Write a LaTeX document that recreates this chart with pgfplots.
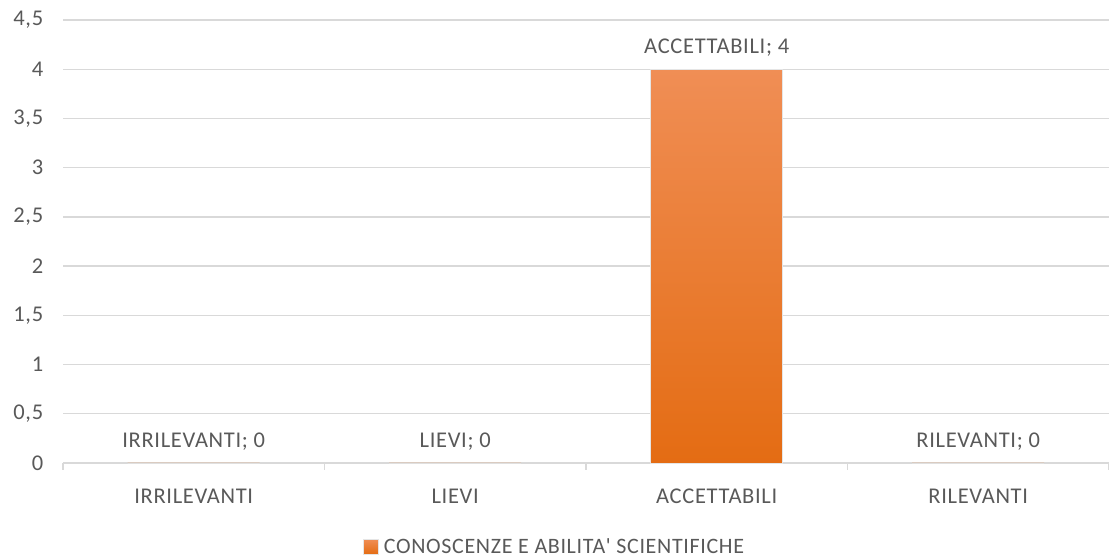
\documentclass[border=0pt]{standalone}
\usepackage{pgfplots}
\usepackage{pgfplotstable}
\pgfplotsset{compat=1.18}
\usepackage{fontspec}
\setmainfont{Carlito}[LetterSpace=3]
\newfontfamily\cfont{Carlito}[LetterSpace=3]
\definecolor{txt}{HTML}{595959}
\definecolor{gridc}{HTML}{D9D9D9}
\definecolor{otop}{HTML}{F08E55}
\definecolor{obot}{HTML}{E46C13}
\pgfplotstableread{
x y lab
0 0 IRRILEVANTI
1 0 LIEVI
2 4 ACCETTABILI
3 0 RILEVANTI
}\datatab
\begin{document}
\begin{tikzpicture}[x=1pt,y=1pt]
\path[use as bounding box] (0,0) rectangle (1109,559);
\begin{axis}[
  at={(63pt,96pt)}, anchor=south west,
  scale only axis, width=1046pt, height=443pt,
  xmin=-0.5, xmax=3.5, ymin=0, ymax=4.5,
  font=\fontsize{22.5}{26}\selectfont,
  ytick={0,0.5,1,1.5,2,2.5,3,3.5,4,4.5},
  /pgf/number format/assume math mode=true,
  /pgf/number format/use comma,
  yticklabel style={text=txt, xshift=-12pt},
  ymajorgrids, major grid style={draw=gridc, line width=1.3pt},
  axis x line=bottom, axis y line=left,
  y axis line style={draw=none},
  x axis line style={-, draw=gridc, line width=1.6pt},
  ytick style={draw=none},
  xtick={0,1,2,3},
  xticklabels={IRRILEVANTI,LIEVI,ACCETTABILI,RILEVANTI},
  xticklabel style={text=txt, yshift=-18pt},
  major x tick style={draw=none},
  minor xtick={-0.5,0.5,1.5,2.5,3.5},
  minor x tick style={draw=gridc, line width=1.6pt},
  minor tick length=7pt,
  tick align=outside,
  legend style={at={(0.47,-0.19)}, anchor=center, draw=none, fill=none, text=txt, font=\cfont\fontsize{22}{26}\selectfont},
  legend image code/.code={\fill[top color=otop,bottom color=obot] (0pt,-7pt) rectangle (15pt,8pt);},
  clip=false,
]
\addplot[ybar, bar width=132pt, draw=black!10, line width=0.8pt, top color=otop, bottom color=obot,
  point meta=explicit symbolic,
  visualization depends on={y \as \yv},
  nodes near coords={\pgfplotspointmeta; \pgfmathprintnumber{\yv}},
  nodes near coords style={text=txt, anchor=south, yshift=9pt}]
  table[x=x, y=y, meta=lab] {\datatab};
\addlegendentry{\hspace{3pt}CONOSCENZE E ABILITA' SCIENTIFICHE}
\end{axis}
\end{tikzpicture}
\end{document}
